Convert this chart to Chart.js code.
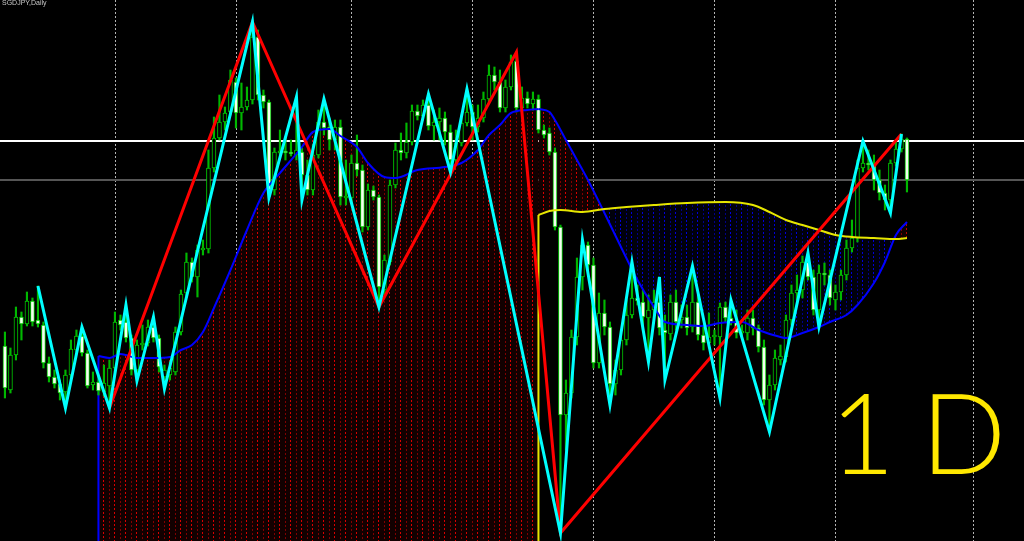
<!DOCTYPE html>
<html>
<head>
<meta charset="utf-8">
<script src="https://cdn.jsdelivr.net/npm/chart.js@4.4.1/dist/chart.umd.min.js"></script>
<style>
  html, body { margin: 0; padding: 0; background: #000; overflow: hidden; }
  canvas { display: block; }
</style>
</head>
<body>
<canvas id="chart" width="1024" height="541"></canvas>
<script>
// SGDJPY, Daily - one candle per bar index 0..164
const opens = [
  86.54, 86.10, 86.45, 86.83, 86.76, 86.99, 86.80, 86.75, 86.37, 86.23,
  86.16, 86.08, 86.25, 86.50, 86.64, 86.47, 86.15, 86.18, 86.08, 86.14,
  86.32, 86.80, 86.78, 86.62, 86.30, 86.55, 86.57, 86.73, 86.62, 86.23,
  86.25, 86.28, 86.68, 87.07, 87.38, 87.23, 87.50, 87.51, 88.32, 88.62,
  88.78, 88.88, 89.18, 88.87, 88.93, 89.00, 89.63, 89.05, 88.98, 88.10,
  88.47, 88.49, 88.48, 88.45, 88.48, 88.25, 88.10, 88.45, 88.78, 88.73,
  88.60, 88.73, 88.02, 88.02, 88.37, 88.30, 87.73, 88.10, 88.03, 87.10,
  87.38, 88.15, 88.50, 88.47, 88.58, 88.89, 88.84, 88.95, 88.74, 88.78,
  88.82, 88.68, 88.40, 88.57, 88.77, 88.88, 88.73, 88.82, 89.01, 89.25,
  89.18, 88.92, 89.13, 89.39, 88.92, 89.02, 88.96, 89.01, 88.70, 88.67,
  88.48, 87.73, 85.85, 86.07, 86.63, 87.23, 87.55, 87.35, 86.37, 86.87,
  86.73, 86.16, 86.30, 86.60, 86.85, 87.02, 86.98, 86.82, 86.90, 86.98,
  86.70, 86.66, 86.98, 86.80, 86.83, 86.73, 86.98, 86.65, 86.57, 86.63,
  86.63, 86.93, 86.82, 86.78, 86.67, 86.67, 86.82, 86.72, 86.53, 86.00,
  86.15, 86.40, 86.43, 86.80, 87.07, 87.10, 87.38, 87.23, 86.90, 87.27,
  87.25, 87.00, 87.08, 87.25, 87.52, 87.62, 88.32, 88.37, 88.35, 88.20,
  88.07, 88.00, 88.37, 88.51, 88.61
];
const highs = [
  86.68, 86.52, 86.93, 86.88, 87.08, 87.02, 87.14, 86.78, 86.43, 86.30,
  86.20, 86.30, 86.60, 86.70, 86.73, 86.50, 86.28, 86.24, 86.35, 86.40,
  86.88, 86.85, 86.95, 86.65, 86.60, 86.75, 86.80, 86.83, 86.65, 86.35,
  86.38, 86.73, 87.10, 87.47, 87.42, 87.55, 87.60, 88.50, 88.83, 89.05,
  88.93, 89.30, 89.22, 89.17, 89.13, 89.78, 89.70, 89.10, 89.00, 88.52,
  88.70, 88.62, 88.60, 89.03, 88.52, 88.40, 88.55, 88.90, 89.01, 88.82,
  88.80, 88.80, 88.40, 88.45, 88.65, 88.35, 88.16, 88.14, 88.05, 87.45,
  88.20, 88.57, 88.67, 88.77, 88.95, 88.95, 89.00, 89.06, 88.90, 88.92,
  88.88, 88.75, 88.70, 88.85, 89.11, 88.95, 88.95, 89.08, 89.35, 89.33,
  89.30, 89.20, 89.45, 89.48, 89.13, 89.08, 89.08, 89.05, 88.75, 88.72,
  88.52, 87.75, 86.20, 86.70, 87.42, 87.60, 87.58, 87.42, 87.07, 87.00,
  86.78, 86.40, 86.70, 87.00, 87.38, 87.15, 87.10, 87.05, 87.10, 87.23,
  86.85, 87.05, 87.10, 86.95, 86.95, 87.34, 87.05, 86.75, 86.87, 86.70,
  86.97, 86.98, 87.00, 86.90, 86.75, 86.90, 86.90, 86.75, 86.60, 86.25,
  86.50, 86.55, 86.85, 87.15, 87.25, 87.44, 87.47, 87.30, 87.35, 87.37,
  87.30, 87.15, 87.30, 87.60, 87.80, 88.40, 88.59, 88.50, 88.45, 88.30,
  88.15, 88.40, 88.60, 88.66, 88.62
];
const lows = [
  86.02, 86.07, 86.40, 86.60, 86.74, 86.74, 86.73, 86.32, 86.18, 86.12,
  86.00, 85.92, 86.20, 86.48, 86.44, 86.12, 86.10, 86.05, 86.04, 85.92,
  86.28, 86.70, 86.58, 86.25, 86.19, 86.50, 86.54, 86.58, 86.28, 86.11,
  86.20, 86.25, 86.65, 87.04, 87.18, 87.03, 87.45, 87.47, 88.28, 88.60,
  88.70, 88.85, 88.72, 88.70, 88.90, 88.96, 89.00, 88.92, 88.02, 88.05,
  88.42, 88.40, 88.44, 88.40, 88.00, 88.05, 88.05, 88.42, 88.65, 88.50,
  88.50, 87.95, 87.95, 87.98, 88.24, 87.68, 87.70, 88.00, 86.93, 87.05,
  87.35, 88.12, 88.40, 88.42, 88.55, 88.80, 88.80, 88.70, 88.60, 88.60,
  88.55, 88.28, 88.35, 88.54, 88.74, 88.60, 88.68, 88.78, 88.98, 89.10,
  88.88, 88.88, 89.10, 88.88, 88.88, 88.92, 88.90, 88.67, 88.62, 88.45,
  87.70, 84.67, 85.50, 86.02, 86.55, 87.10, 87.30, 86.32, 86.32, 86.65,
  85.95, 86.05, 86.25, 86.55, 86.82, 86.95, 86.70, 86.38, 86.80, 86.65,
  86.20, 86.60, 86.70, 86.72, 86.65, 86.68, 86.60, 86.50, 86.52, 86.55,
  86.02, 86.78, 86.75, 86.62, 86.64, 86.60, 86.65, 86.48, 85.95, 85.68,
  86.10, 86.35, 86.38, 86.75, 87.00, 87.02, 87.20, 86.85, 86.73, 87.15,
  86.95, 86.90, 87.00, 87.20, 87.48, 87.58, 88.28, 88.30, 88.10, 88.00,
  87.90, 87.87, 88.34, 88.48, 88.08
];
const closes = [
  86.12, 86.45, 86.83, 86.76, 86.99, 86.78, 86.76, 86.37, 86.23, 86.16,
  86.07, 86.25, 86.51, 86.64, 86.47, 86.14, 86.18, 86.09, 86.17, 86.32,
  86.78, 86.75, 86.62, 86.30, 86.55, 86.57, 86.73, 86.62, 86.33, 86.30,
  86.32, 86.68, 87.06, 87.38, 87.23, 87.50, 87.52, 88.32, 88.62, 88.78,
  88.87, 89.20, 88.87, 88.93, 89.00, 89.63, 89.05, 88.98, 88.10, 88.48,
  88.49, 88.47, 88.46, 88.50, 88.25, 88.10, 88.45, 88.78, 88.72, 88.60,
  88.73, 88.03, 88.04, 88.37, 88.30, 87.73, 88.10, 88.03, 87.13, 87.40,
  88.15, 88.50, 88.47, 88.58, 88.89, 88.84, 88.95, 88.74, 88.78, 88.82,
  88.68, 88.40, 88.57, 88.77, 88.88, 88.73, 88.82, 89.01, 89.25, 89.18,
  88.92, 89.13, 89.38, 88.92, 89.02, 88.96, 89.01, 88.70, 88.65, 88.48,
  87.73, 85.85, 86.07, 86.63, 87.23, 87.55, 87.35, 86.37, 86.87, 86.73,
  86.16, 86.30, 86.60, 86.85, 87.02, 86.99, 86.83, 86.90, 86.98, 86.72,
  86.67, 86.98, 86.78, 86.83, 86.72, 86.98, 86.65, 86.57, 86.63, 86.65,
  86.93, 86.82, 86.78, 86.67, 86.69, 86.82, 86.72, 86.53, 86.00, 86.15,
  86.42, 86.44, 86.80, 87.07, 87.10, 87.38, 87.23, 86.90, 87.27, 87.25,
  87.02, 87.08, 87.25, 87.52, 87.62, 88.32, 88.37, 88.35, 88.20, 88.07,
  88.00, 88.37, 88.51, 88.61, 88.20
];

// blue moving average (fast)
const maFastBars = [17, 19, 21, 22, 24, 27, 30, 32, 34, 36, 38, 41, 44, 47, 50, 54, 56, 59, 61, 64,
  66, 69, 71, 75, 80, 83, 86, 88, 90, 92, 95, 97, 99, 100, 102, 104, 106, 109, 112, 115,
  118, 120, 124, 127, 130, 134, 137, 141, 142, 145, 148, 150, 153, 155, 158, 160, 162, 164];
const maFastValues = [86.44, 86.42, 86.46, 86.45, 86.42, 86.42, 86.43, 86.50, 86.55, 86.68,
  86.92, 87.30, 87.70, 88.07, 88.27, 88.53, 88.68, 88.71, 88.64, 88.53,
  88.37, 88.23, 88.22, 88.30, 88.33, 88.37, 88.50, 88.65, 88.75, 88.87,
  88.90, 88.91, 88.88, 88.80, 88.60, 88.40, 88.20, 87.87, 87.53, 87.20,
  86.93, 86.78, 86.75, 86.74, 86.77, 86.78, 86.70, 86.63, 86.62, 86.67,
  86.73, 86.78, 86.85, 86.95, 87.17, 87.38, 87.65, 87.78];

// yellow moving average (slow)
const maSlowBars = [97, 99, 101, 105, 109, 113, 118, 124, 131, 136, 139, 142, 145, 148, 151, 154, 158, 162, 164];
const maSlowValues = [87.85, 87.89, 87.90, 87.88, 87.91, 87.93, 87.95, 87.97, 87.98, 87.95,
  87.88, 87.80, 87.75, 87.70, 87.65, 87.63, 87.62, 87.61, 87.62];

// cyan zigzag
const zigzagBars = [6, 11, 14, 19, 22, 24, 27, 29, 45, 48, 53, 54, 58, 68, 77, 81, 84, 101, 105, 110,
  114, 117, 119, 120, 125, 130, 132, 139, 146, 148, 156, 161, 163];
const zigzagValues = [87.14, 85.92, 86.73, 85.92, 86.95, 86.19, 86.83, 86.11, 89.78, 88.02,
  89.03, 88.00, 89.01, 86.93, 89.06, 88.28, 89.11, 84.67, 87.60, 85.95,
  87.38, 86.38, 87.23, 86.20, 87.34, 86.02, 87.00, 85.68, 87.47, 86.73,
  88.59, 87.87, 88.66];

// red zigzag
const bigZigzagBars = [19, 45, 68, 93, 101, 163];
const bigZigzagValues = [85.92, 89.78, 86.93, 89.48, 84.67, 88.66];

const gridBars = [20, 42, 63, 85, 107, 129, 151, 176];
const bidLine = 88.59;
const lastLine = 88.20;

const bars = opens.map((_, i) => i);
const pts = (xs, ys) => xs.map((x, i) => ({ x: x, y: ys[i] }));
const fastPts = pts(maFastBars, maFastValues);
const slowStart = maSlowBars[0];
const fastLeft = fastPts.filter(p => p.x <= slowStart);
const fastRight = fastPts.filter(p => p.x >= slowStart);

const canvas = document.getElementById("chart");
const ctx = canvas.getContext("2d");

function hatch(bright, dim, bg) {
  const c = document.createElement("canvas");
  c.width = 11;
  c.height = 4;
  const g = c.getContext("2d");
  g.fillStyle = bg;
  g.fillRect(0, 0, 11, 4);
  g.fillStyle = bright;
  g.fillRect(4, 0, 1, 2);
  g.fillStyle = dim;
  g.fillRect(10, 1, 1, 2);
  return ctx.createPattern(c, "repeat");
}
const redHatch = hatch("#d80000", "#800000", "#120000");
const blueHatch = hatch("#0000d8", "#000088", "#00000c");

const backdrop = {
  id: "backdrop",
  beforeDraw(chart) {
    const c = chart.ctx;
    const { left, right, top, bottom } = chart.chartArea;
    const x = chart.scales.x;
    const y = chart.scales.y;
    c.save();
    c.fillStyle = "#000";
    c.fillRect(0, 0, chart.width, chart.height);
    // dotted period separators
    c.strokeStyle = "#b4b4b4";
    c.lineWidth = 1;
    c.setLineDash([2, 2]);
    gridBars.forEach(b => {
      const px = Math.round(x.getPixelForValue(b)) + 0.5;
      c.beginPath();
      c.moveTo(px, top);
      c.lineTo(px, bottom);
      c.stroke();
    });
    c.setLineDash([]);
    // price lines
    c.lineWidth = 2;
    c.strokeStyle = "#555555";
    let py = y.getPixelForValue(lastLine);
    c.beginPath(); c.moveTo(left, py); c.lineTo(right, py); c.stroke();
    c.strokeStyle = "#ffffff";
    py = y.getPixelForValue(bidLine);
    c.beginPath(); c.moveTo(left, py); c.lineTo(right, py); c.stroke();
    c.restore();
  },
  beforeDatasetsDraw(chart) {
    // averages start from the empty value: vertical edge down to the bottom
    const c = chart.ctx;
    const x = chart.scales.x;
    const y = chart.scales.y;
    const bottom = chart.chartArea.bottom;
    c.save();
    c.lineWidth = 2;
    [[maFastBars[0], maFastValues[0], "#0000ff"], [maSlowBars[0], maSlowValues[0], "#e6e600"]].forEach(([b, v, col]) => {
      const px = x.getPixelForValue(b);
      c.strokeStyle = col;
      c.beginPath();
      c.moveTo(px, y.getPixelForValue(v));
      c.lineTo(px, bottom);
      c.stroke();
    });
    c.restore();
  },
  afterDraw(chart) {
    const c = chart.ctx;
    c.save();
    c.fillStyle = "#c8c8c8";
    c.font = "7px 'Liberation Sans', Arial, sans-serif";
    c.textBaseline = "alphabetic";
    c.fillText("SGDJPY,Daily", 2, 5);
    c.fillStyle = "#ffe800";
    c.font = "300 112px Lato, 'Open Sans', sans-serif";
    c.letterSpacing = "26px";
    c.fillText("1D", 830, 474);
    c.restore();
  }
};

new Chart(ctx, {
  type: "bar",
  data: {
    datasets: [
      {
        type: "line",
        label: "ZigZag",
        data: pts(zigzagBars, zigzagValues),
        borderColor: "#00ffff",
        borderWidth: 3,
        pointRadius: 0,
        tension: 0,
        order: 0,
      },
      {
        type: "line",
        label: "ZigZag big",
        data: pts(bigZigzagBars, bigZigzagValues),
        borderColor: "#ff0000",
        borderWidth: 3,
        pointRadius: 0,
        tension: 0,
        order: 1,
      },
      {
        type: "line",
        label: "MA slow",
        data: pts(maSlowBars, maSlowValues),
        borderColor: "#e6e600",
        borderWidth: 2,
        pointRadius: 0,
        cubicInterpolationMode: "monotone",
        fill: false,
        order: 2,
      },
      {
        type: "line",
        label: "MA fast",
        data: fastLeft,
        borderColor: "#0000ff",
        borderWidth: 2,
        pointRadius: 0,
        cubicInterpolationMode: "monotone",
        backgroundColor: redHatch,
        fill: "start",
        order: 3,
      },
      {
        type: "line",
        label: "MA fast (cont.)",
        data: fastRight,
        borderColor: "#0000ff",
        borderWidth: 2,
        pointRadius: 0,
        cubicInterpolationMode: "monotone",
        fill: { target: 2, above: redHatch, below: blueHatch },
        order: 3,
      },
      {
        label: "bodies",
        data: bars.map(i => ({ x: i, y: [opens[i], closes[i]] })),
        backgroundColor: bars.map(i => (closes[i] >= opens[i] ? "#000000" : "#f4fff0")),
        borderColor: "#00c800",
        borderWidth: 1,
        borderSkipped: false,
        barThickness: 4,
        grouped: false,
        order: 5,
      },
      {
        label: "wicks",
        data: bars.map(i => ({ x: i, y: [lows[i], highs[i]] })),
        backgroundColor: "#00b800",
        borderWidth: 0,
        barThickness: 1.5,
        grouped: false,
        order: 6,
      },
    ],
  },
  options: {
    responsive: false,
    animation: false,
    devicePixelRatio: 1,
    layout: { padding: 0 },
    scales: {
      x: { type: "linear", min: -0.9, max: 185.28, display: false, offset: false },
      y: { min: 84.59, max: 90, display: false },
    },
    plugins: {
      legend: { display: false },
      tooltip: { enabled: false },
      filler: { drawTime: "beforeDatasetsDraw" },
    },
  },
  plugins: [backdrop],
});
</script>
</body>
</html>
